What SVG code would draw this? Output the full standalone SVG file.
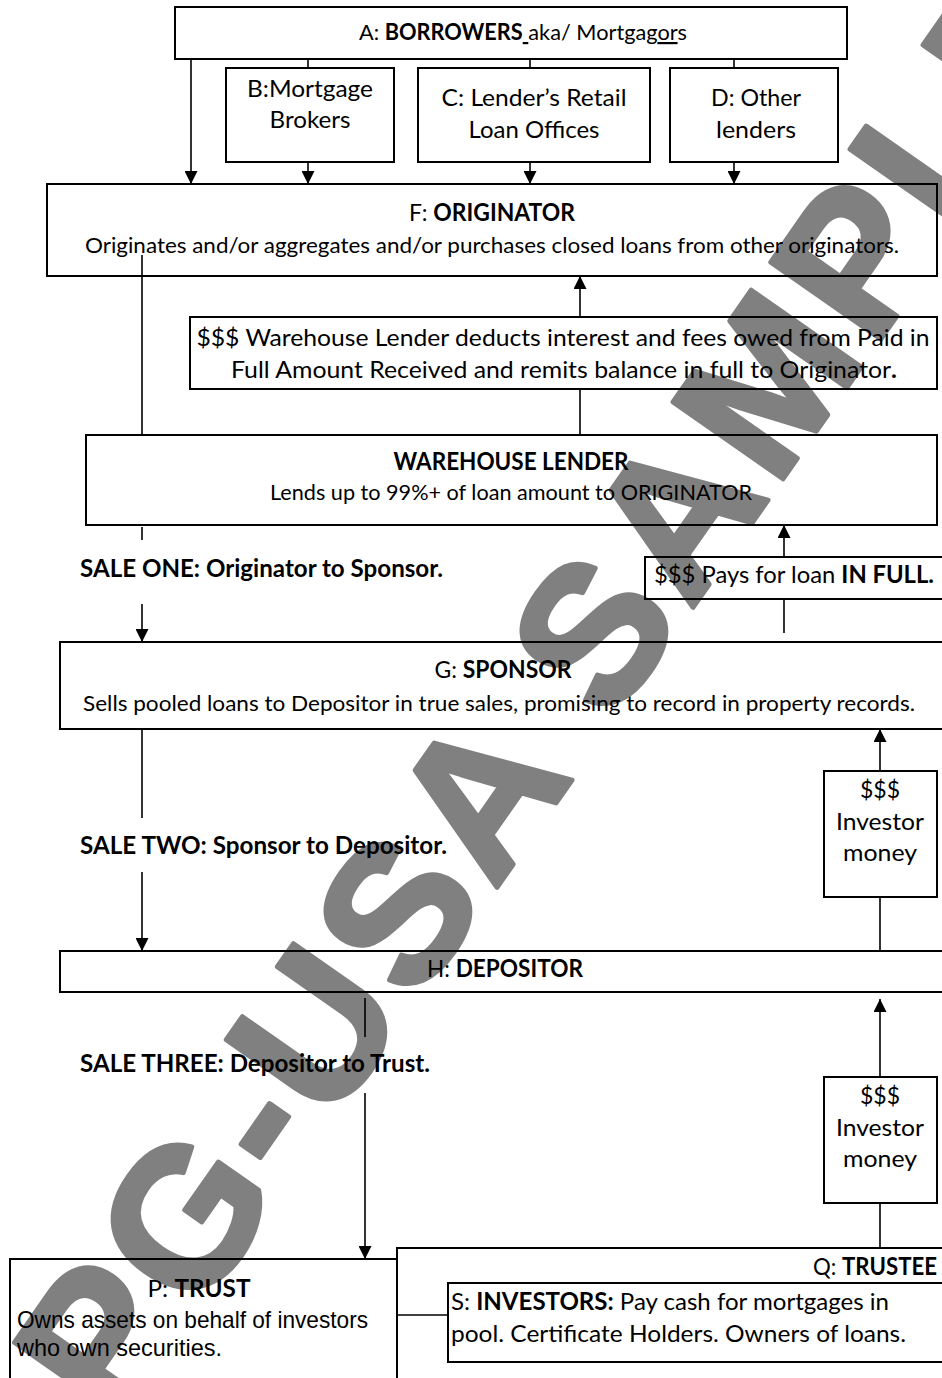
<svg xmlns="http://www.w3.org/2000/svg" width="942" height="1378" viewBox="0 0 942 1378">
<style>
.bx{fill:none;stroke:#000;stroke-width:2}
.cn{fill:none;stroke:#000;stroke-width:1.6}
.t{font-family:Lato,'Open Sans','Liberation Sans',sans-serif;fill:#000}
.n{font-size:22px}
.l{font-size:24px}
.b{font-weight:700}
.ar{font-family:'Liberation Sans',Arial,sans-serif;font-size:24px;fill:#000}
.wm{font-family:'Liberation Sans',Arial,sans-serif;font-weight:700;font-size:195px;letter-spacing:8px;fill:#808080;stroke:#808080;stroke-width:5;stroke-linejoin:round}
</style>
<defs>
<marker id="ah" markerUnits="userSpaceOnUse" markerWidth="13" markerHeight="13" refX="13" refY="6.5" orient="auto">
<path d="M0,0 L13,6.5 L0,13 Z" fill="#000"/>
</marker>
</defs>
<rect width="942" height="1378" fill="#fff"/>
<text class="wm" transform="translate(117,1430) rotate(-55)">PG-USA SAMPLE</text>

<g id="connectors">
<line class="cn" x1="191" y1="59" x2="191" y2="184" marker-end="url(#ah)"/>
<line class="cn" x1="308" y1="59" x2="308" y2="68"/>
<line class="cn" x1="308" y1="162" x2="308" y2="184" marker-end="url(#ah)"/>
<line class="cn" x1="530" y1="59" x2="530" y2="68"/>
<line class="cn" x1="530" y1="162" x2="530" y2="184" marker-end="url(#ah)"/>
<line class="cn" x1="734" y1="59" x2="734" y2="68"/>
<line class="cn" x1="734" y1="162" x2="734" y2="184" marker-end="url(#ah)"/>
<line class="cn" x1="142" y1="255" x2="142" y2="435"/>
<line class="cn" x1="580" y1="435" x2="580" y2="389"/>
<line class="cn" x1="580" y1="317" x2="580" y2="276" marker-end="url(#ah)"/>
<line class="cn" x1="142" y1="527" x2="142" y2="540"/>
<line class="cn" x1="142" y1="604" x2="142" y2="642" marker-end="url(#ah)"/>
<line class="cn" x1="784" y1="633" x2="784" y2="599"/>
<line class="cn" x1="784" y1="557" x2="784" y2="525" marker-end="url(#ah)"/>
<line class="cn" x1="142" y1="729" x2="142" y2="818"/>
<line class="cn" x1="142" y1="872" x2="142" y2="951" marker-end="url(#ah)"/>
<line class="cn" x1="880" y1="951" x2="880" y2="897"/>
<line class="cn" x1="880" y1="771" x2="880" y2="729" marker-end="url(#ah)"/>
<line class="cn" x1="365" y1="998" x2="365" y2="1037"/>
<line class="cn" x1="365" y1="1093" x2="365" y2="1259" marker-end="url(#ah)"/>
<line class="cn" x1="880" y1="1248" x2="880" y2="1203"/>
<line class="cn" x1="880" y1="1077" x2="880" y2="999" marker-end="url(#ah)"/>
<line class="cn" x1="397" y1="1315" x2="448" y2="1315" stroke-width="2"/>
</g>

<g id="A">
<rect class="bx" x="175" y="7" width="672" height="52"/>
<text class="t n" x="523" y="40" text-anchor="middle" textLength="328" lengthAdjust="spacingAndGlyphs">A: <tspan class="b">BORROWERS</tspan><tspan text-decoration="underline"> </tspan>aka/ Mortgag<tspan text-decoration="underline">or</tspan>s</text>
</g>
<g id="B">
<rect class="bx" x="226" y="68" width="168" height="94"/>
<text class="t l" x="310" y="97" text-anchor="middle" textLength="126" lengthAdjust="spacingAndGlyphs">B:Mortgage</text>
<text class="t l" x="310" y="128" text-anchor="middle" textLength="81" lengthAdjust="spacingAndGlyphs">Brokers</text>
</g>
<g id="C">
<rect class="bx" x="418" y="68" width="232" height="94"/>
<text class="t l" x="534" y="106" text-anchor="middle" textLength="185" lengthAdjust="spacingAndGlyphs">C: Lender’s Retail</text>
<text class="t l" x="534" y="138" text-anchor="middle" textLength="131" lengthAdjust="spacingAndGlyphs">Loan Offices</text>
</g>
<g id="D">
<rect class="bx" x="670" y="68" width="168" height="94"/>
<text class="t l" x="756" y="106" text-anchor="middle" textLength="90" lengthAdjust="spacingAndGlyphs">D: Other</text>
<text class="t l" x="756" y="138" text-anchor="middle" textLength="80" lengthAdjust="spacingAndGlyphs">lenders</text>
</g>
<g id="F">
<rect class="bx" x="47" y="184" width="890" height="92"/>
<text class="t l" x="492" y="221" text-anchor="middle" textLength="166" lengthAdjust="spacingAndGlyphs">F: <tspan class="b">ORIGINATOR</tspan></text>
<text class="t n" x="492" y="253" text-anchor="middle" textLength="814" lengthAdjust="spacingAndGlyphs">Originates and/or aggregates and/or purchases closed loans from other originators.</text>
</g>
<g id="repay">
<rect class="bx" x="190" y="317" width="747" height="72"/>
<text class="t l" x="563" y="346" text-anchor="middle" textLength="733" lengthAdjust="spacingAndGlyphs">$$$ Warehouse Lender deducts interest and fees owed from Paid in</text>
<text class="t l" x="564" y="378" text-anchor="middle" textLength="666" lengthAdjust="spacingAndGlyphs">Full Amount Received and remits balance in full to Originator<tspan class="b">.</tspan></text>
</g>
<g id="warehouse">
<rect class="bx" x="86" y="435" width="851" height="90"/>
<text class="t l b" x="511" y="470" text-anchor="middle" textLength="235" lengthAdjust="spacingAndGlyphs">WAREHOUSE LENDER</text>
<text class="t n" x="511" y="500" text-anchor="middle" textLength="482" lengthAdjust="spacingAndGlyphs">Lends up to 99%+ of loan amount to ORIGINATOR</text>
</g>
<g id="sale1">
<text class="t l b" x="80" y="577" textLength="363" lengthAdjust="spacingAndGlyphs">SALE ONE: Originator to Sponsor.</text>
</g>
<g id="payfull">
<rect class="bx" x="645" y="557" width="305" height="42"/>
<text class="t l" x="654" y="583" textLength="280" lengthAdjust="spacingAndGlyphs">$$$ Pays for loan <tspan class="b">IN FULL.</tspan></text>
</g>
<g id="G">
<rect class="bx" x="60" y="642" width="890" height="87"/>
<text class="t l" x="503" y="678" text-anchor="middle" textLength="137" lengthAdjust="spacingAndGlyphs">G: <tspan class="b">SPONSOR</tspan></text>
<text class="t n" x="499" y="711" text-anchor="middle" textLength="832" lengthAdjust="spacingAndGlyphs">Sells pooled loans to Depositor in true sales, promising to record in property records.</text>
</g>
<g id="sale2">
<text class="t l b" x="80" y="854" textLength="367" lengthAdjust="spacingAndGlyphs">SALE TWO: Sponsor to Depositor.</text>
</g>
<g id="inv1">
<rect class="bx" x="824" y="771" width="113" height="126"/>
<text class="t l" x="880" y="798" text-anchor="middle" textLength="40" lengthAdjust="spacingAndGlyphs">$$$</text>
<text class="t l" x="880" y="830" text-anchor="middle" textLength="88" lengthAdjust="spacingAndGlyphs">Investor</text>
<text class="t l" x="880" y="861" text-anchor="middle" textLength="74" lengthAdjust="spacingAndGlyphs">money</text>
</g>
<g id="H">
<rect class="bx" x="60" y="951" width="890" height="41"/>
<text class="t l" x="505" y="977" text-anchor="middle" textLength="156" lengthAdjust="spacingAndGlyphs">H: <tspan class="b">DEPOSITOR</tspan></text>
</g>
<g id="sale3">
<text class="t l b" x="80" y="1072" textLength="350" lengthAdjust="spacingAndGlyphs">SALE THREE: Depositor to Trust.</text>
</g>
<g id="inv2">
<rect class="bx" x="824" y="1077" width="113" height="126"/>
<text class="t l" x="880" y="1104" text-anchor="middle" textLength="40" lengthAdjust="spacingAndGlyphs">$$$</text>
<text class="t l" x="880" y="1136" text-anchor="middle" textLength="88" lengthAdjust="spacingAndGlyphs">Investor</text>
<text class="t l" x="880" y="1167" text-anchor="middle" textLength="74" lengthAdjust="spacingAndGlyphs">money</text>
</g>
<g id="P">
<rect class="bx" x="10" y="1259" width="387" height="140"/>
<text class="t l" x="199" y="1297" text-anchor="middle" textLength="103" lengthAdjust="spacingAndGlyphs">P: <tspan class="b">TRUST</tspan></text>
<text class="ar" x="17" y="1328" textLength="351" lengthAdjust="spacingAndGlyphs">Owns assets on behalf of investors</text>
<text class="ar" x="17" y="1356" textLength="205" lengthAdjust="spacingAndGlyphs">who own securities.</text>
</g>
<g id="Q">
<rect class="bx" x="397" y="1248" width="553" height="150"/>
<text class="t l" x="937" y="1275" text-anchor="end" textLength="124" lengthAdjust="spacingAndGlyphs">Q: <tspan class="b">TRUSTEE</tspan></text>
</g>
<g id="S">
<rect class="bx" x="448" y="1283" width="502" height="79"/>
<text class="t l" x="451" y="1310" textLength="438" lengthAdjust="spacingAndGlyphs">S: <tspan class="b">INVESTORS:</tspan> Pay cash for mortgages in</text>
<text class="t l" x="451" y="1342" textLength="455" lengthAdjust="spacingAndGlyphs">pool. Certificate Holders. Owners of loans.</text>
</g>
</svg>
